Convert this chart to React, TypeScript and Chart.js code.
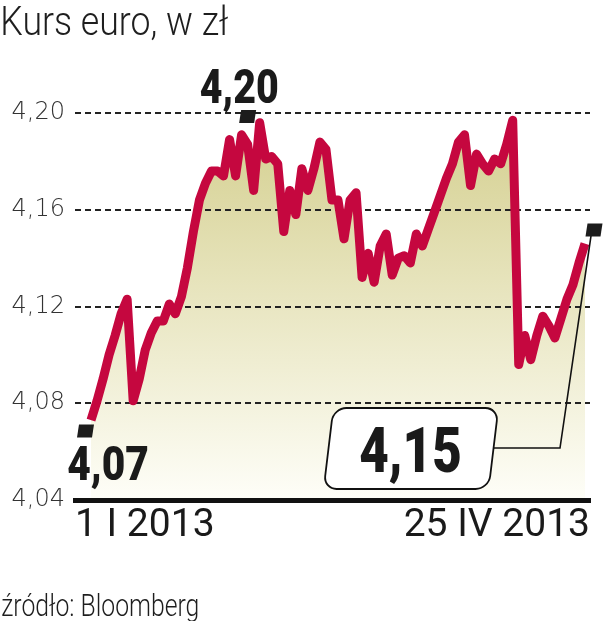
import { useEffect, useRef } from 'react';
import { Chart, registerables } from 'chart.js';

Chart.register(...registerables);

const titleText = 'Kurs euro, w zł';
const sourceText = 'źródło: Bloomberg';
const xTickLabels = ['1 I 2013', '25 IV 2013'];
const yTicks = [4.04, 4.08, 4.12, 4.16, 4.2];
const startLabel = 4.07;
const maxLabel = 4.2;
const endLabel = 4.15;

// EUR/PLN daily rate, 2 I 2013 - 25 IV 2013
const eurPln = [
  4.073, 4.081, 4.090, 4.100, 4.108, 4.117, 4.123, 4.081, 4.090, 4.102,
  4.109, 4.114, 4.114, 4.121, 4.117, 4.124, 4.136, 4.151, 4.164, 4.171,
  4.176, 4.176, 4.174, 4.189, 4.174, 4.191, 4.187, 4.168, 4.196, 4.181,
  4.182, 4.179, 4.151, 4.168, 4.158, 4.177, 4.168, 4.177, 4.188, 4.185,
  4.164, 4.164, 4.148, 4.164, 4.167, 4.132, 4.142, 4.130, 4.145, 4.150,
  4.133, 4.140, 4.141, 4.138, 4.150, 4.145, 4.152, 4.159, 4.166, 4.173,
  4.179, 4.188, 4.191, 4.170, 4.183, 4.179, 4.176, 4.181, 4.179, 4.187,
  4.197, 4.096, 4.108, 4.098, 4.108, 4.116, 4.112, 4.107, 4.115, 4.123,
  4.129, 4.138, 4.146,
];

const fmt = (v: number) => v.toFixed(2).replace('.', ',');

function fitText(
  ctx: CanvasRenderingContext2D,
  text: string,
  left: number,
  baseline: number,
  cap: number,
  width: number,
  weight: string,
  family: string,
  color: string
) {
  ctx.save();
  ctx.font = `${weight} 100px ${family}`;
  const hm = ctx.measureText('H');
  const size = (cap / hm.actualBoundingBoxAscent) * 100;
  ctx.font = `${weight} ${size}px ${family}`;
  const m = ctx.measureText(text);
  const w = m.actualBoundingBoxRight + m.actualBoundingBoxLeft;
  ctx.translate(left, baseline);
  ctx.scale(width / w, 1);
  ctx.fillStyle = color;
  ctx.textBaseline = 'alphabetic';
  ctx.textAlign = 'left';
  ctx.fillText(text, m.actualBoundingBoxLeft, 0);
  ctx.restore();
}

function marker(ctx: CanvasRenderingContext2D, cx: number, cy: number) {
  const w = 15;
  const h = 13;
  ctx.save();
  ctx.fillStyle = '#1c1c1c';
  ctx.beginPath();
  ctx.moveTo(cx - w / 2 + 1, cy - h / 2);
  ctx.lineTo(cx + w / 2 + 1, cy - h / 2);
  ctx.lineTo(cx + w / 2 - 1, cy + h / 2);
  ctx.lineTo(cx - w / 2 - 1, cy + h / 2);
  ctx.closePath();
  ctx.fill();
  ctx.restore();
}

const annotations = {
  id: 'annotations',
  afterDraw(chart: any) {
    const ctx: CanvasRenderingContext2D = chart.ctx;
    const xs = chart.scales.x;
    const ys = chart.scales.y;
    const last = eurPln.length - 1;

    // title and source
    fitText(ctx, titleText, 3, 35, 28.3, 225, '300', 'Roboto', '#1e1e1e');
    fitText(ctx, sourceText, 2, 616, 22.7, 196, '300', 'Roboto', '#1e1e1e');

    // start marker + label
    const sx = xs.getPixelForValue(0) - 5.5;
    const sy = ys.getPixelForValue(startLabel) + 3.5;
    marker(ctx, sx, sy);
    fitText(ctx, fmt(startLabel), sx - 17.5, sy + 49.5, 35, 80, '900', 'Roboto', '#1a1a1a');

    // max marker + label
    const maxIdx = 26;
    const mx = xs.getPixelForValue(maxIdx);
    const my = ys.getPixelForValue(maxLabel) + 3.5;
    marker(ctx, mx, my);
    fitText(ctx, fmt(maxLabel), mx - 47, my - 14, 34, 77, '900', 'Roboto', '#1a1a1a');

    // end marker + leader + box
    const ex = xs.getPixelForValue(last) + 9;
    const ey = ys.getPixelForValue(endLabel) - 4;
    ctx.save();
    ctx.strokeStyle = '#111';
    ctx.lineWidth = 1.6;
    ctx.beginPath();
    ctx.moveTo(ex - 3, ey + 6);
    ctx.lineTo(560, 448);
    ctx.lineTo(494, 448);
    ctx.stroke();
    ctx.restore();
    marker(ctx, ex, ey);

    ctx.save();
    ctx.translate(411, 448.5);
    ctx.transform(1, 0, -0.12, 1, 0, 0);
    ctx.beginPath();
    (ctx as any).roundRect(-82.5, -40.5, 165, 81, 13);
    ctx.fillStyle = '#ffffff';
    ctx.fill();
    ctx.lineWidth = 1.8;
    ctx.strokeStyle = '#111';
    ctx.stroke();
    ctx.restore();
    fitText(ctx, fmt(endLabel), 360, 472, 45, 100, '900', 'Roboto', '#1a1a1a');
  },
};

export default function App() {
  const ref = useRef<HTMLCanvasElement>(null);
  useEffect(() => {
    document.body.style.margin = '0';
    const canvas = ref.current!;
    const chart = new Chart(canvas, {
      type: 'line',
      data: {
        datasets: [
          {
            data: eurPln.map((v, i) => ({ x: i, y: v })),
            borderColor: '#c5073f',
            borderWidth: 9,
            borderJoinStyle: 'round',
            borderCapStyle: 'butt',
            pointRadius: 0,
            tension: 0,
            fill: 'start',
            clip: false,
            backgroundColor: (c: any) => {
              const area = c.chart.chartArea;
              if (!area) return 'rgba(0,0,0,0)';
              const g = c.chart.ctx.createLinearGradient(0, area.top, 0, area.bottom);
              g.addColorStop(0, '#d3ce8d');
              g.addColorStop(0.45, '#e7e4bd');
              g.addColorStop(1, '#fefef8');
              return g;
            },
          },
        ],
      },
      options: {
        responsive: false,
        animation: false,
        devicePixelRatio: 1,
        layout: { padding: { top: 113, right: 17, left: 0, bottom: 0 } },
        plugins: {
          legend: { display: false },
          tooltip: { enabled: false },
          filler: { drawTime: 'beforeDraw' },
        },
        scales: {
          x: {
            type: 'linear',
            min: -2.656,
            max: 82.83,
            grid: { display: false, drawTicks: false },
            border: { display: true, color: '#111', width: 5 },
            afterBuildTicks: (s: any) => {
              s.ticks = [{ value: s.min }, { value: s.max }];
            },
            afterFit: (s: any) => {
              s.height = 121;
            },
            ticks: {
              align: 'inner',
              autoSkip: false,
              maxRotation: 0,
              minRotation: 0,
              padding: 3,
              color: '#1a1a1a',
              font: { family: 'Roboto', size: 39, weight: 'normal' },
              callback: (_v: any, i: number) => xTickLabels[i],
            },
          },
          y: {
            min: yTicks[0],
            max: yTicks[yTicks.length - 1],
            afterBuildTicks: (s: any) => {
              s.ticks = yTicks.map((v) => ({ value: v }));
            },
            afterFit: (s: any) => {
              s.width = 75;
            },
            grid: {
              drawTicks: false,
              lineWidth: 2,
              color: (c: any) => (c.tick && c.tick.value === yTicks[0] ? 'rgba(0,0,0,0)' : '#222'),
            },
            border: { display: false, dash: [6, 4] },
            ticks: {
              padding: 10,
              color: '#333',
              font: { family: 'DejaVu Sans', size: 24, weight: '300' },
              callback: (v: any) => fmt(Number(v)),
            },
          },
        },
      },
      plugins: [annotations],
    } as any);
    return () => chart.destroy();
  }, []);
  return (
    <canvas
      ref={ref}
      width={607}
      height={621}
      style={{ display: 'block', width: 607, height: 621 }}
    />
  );
}
